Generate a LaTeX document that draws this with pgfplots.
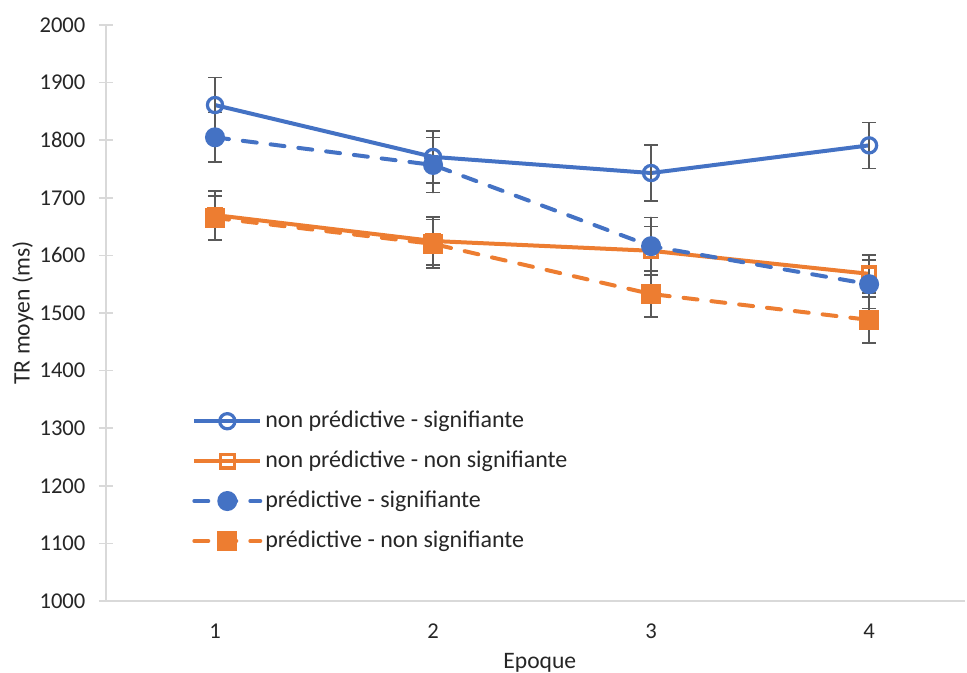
\documentclass[border=0pt]{standalone}
\usepackage{pgfplots}
\pgfplotsset{compat=1.18}
\usepackage{fontspec}
\setmainfont{Carlito}
\definecolor{cblue}{HTML}{4472C4}
\definecolor{corange}{HTML}{ED7D31}
\definecolor{errgray}{HTML}{595959}
\definecolor{axgray}{HTML}{D9D9D9}
\definecolor{txtgray}{HTML}{262626}
\begin{document}
\fontsize{10.8}{13}\selectfont
\begin{tikzpicture}
\path[use as bounding box] (-53pt,-36pt) rectangle (430.5pt,300.5pt);
\begin{axis}[
  at={(0,0)}, anchor=south west,
  scale only axis, width=429.5pt, height=288pt,
  xmin=0.5, xmax=4.44, ymin=1000, ymax=2000,
  xtick={1,2,3,4}, ytick={1000,1100,...,2000},
  axis lines*=left,
  axis line style={axgray, line width=0.75pt},
  tick align=center, major tick length=7pt,
  y tick style={axgray, line width=0.75pt},
  x tick style={draw=none},
  tick label style={font=\fontsize{11.3}{13.5}\selectfont, text=txtgray},
  /pgf/number format/assume math mode=true,
  /pgf/number format/1000 sep={},
  yticklabel style={xshift=-3pt},
  xticklabel style={yshift=-4pt},
  ylabel={TR moyen (ms)}, xlabel={Epoque},
  label style={font=\fontsize{11.8}{14}\selectfont, text=txtgray},
  ylabel style={at={(axis description cs:-0.0966,0.5)}, anchor=center, rotate=0},
  xlabel style={at={(axis description cs:0.505,-0.1076)}, anchor=center},
  legend style={at={(axis description cs:0.1,0.337)}, anchor=north west, draw=none, fill=none,
    font=\fontsize{12}{14.5}\selectfont, text=txtgray, row sep=6pt, inner sep=0pt,
    nodes={inner xsep=1.5pt}},
  legend cell align=left,
  legend image code/.code={\draw[mark repeat=2,mark phase=2,#1] plot coordinates {(0pt,0pt) (16.5pt,0pt) (33pt,0pt)};},
  error bars/y dir=both, error bars/y explicit,
  error bars/error bar style={errgray, line width=0.75pt, solid},
  error bars/error mark options={rotate=90, mark size=3.3pt, errgray, line width=0.75pt, solid},
]
\addplot[cblue, line width=2pt, mark=o, mark size=3.8pt, mark options={line width=1.6pt, solid}]
  coordinates {(1,1861) +- (0,48) (2,1771) +- (0,45) (3,1743) +- (0,49) (4,1791) +- (0,40)};
\addlegendentry{non prédictive - signifiante}
\addplot[corange, line width=2pt, mark=square, mark size=3.4pt, mark options={line width=1.6pt, solid}]
  coordinates {(1,1670) +- (0,42) (2,1625) +- (0,42) (3,1608) +- (0,42) (4,1568) +- (0,33)};
\addlegendentry{non prédictive - non signifiante}
\addplot[cblue, line width=2pt, dash pattern=on 7pt off 7pt, line cap=round, mark=*, mark size=4pt, mark options={solid}]
  coordinates {(1,1805) +- (0,43) (2,1757) +- (0,48) (3,1616) +- (0,50) (4,1550) +- (0,42)};
\addlegendentry{prédictive - signifiante}
\addplot[corange, line width=2pt, dash pattern=on 7pt off 7pt, line cap=round, mark=square*, mark size=4pt, mark options={solid}]
  coordinates {(1,1665) +- (0,38) (2,1620) +- (0,42) (3,1533) +- (0,40) (4,1488) +- (0,40)};
\addlegendentry{prédictive - non signifiante}
\end{axis}
\end{tikzpicture}
\end{document}
